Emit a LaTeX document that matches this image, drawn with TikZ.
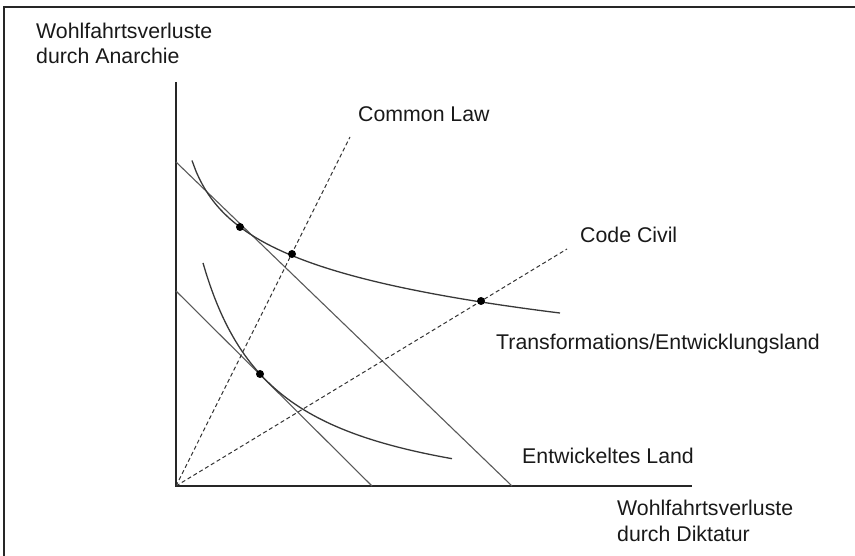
\documentclass[tikz,border=0pt]{standalone}
\usepackage{fontspec}
\setmainfont{Liberation Sans}
\begin{document}
\begin{tikzpicture}[x=1pt,y=-1pt,
  lbl/.style={anchor=base west,inner sep=0pt,font=\fontsize{21.3}{25}\selectfont,text=black!90},
  axis/.style={draw=black!85,line width=1.4pt},
  budget/.style={draw=black!65,line width=1.1pt},
  curve/.style={draw=black!78,line width=1.3pt},
  ray/.style={draw=black!80,line width=1pt,dash pattern=on 4pt off 2.8pt},
  dot/.style={circle,fill=black,inner sep=0pt,minimum size=8pt},
  frame/.style={draw=black!85,line width=1.8pt}]
\useasboundingbox (0,0) rectangle (855,556);
\draw[frame] (855,7) -- (4,7) -- (4,556);
% axes
\coordinate (O) at (176,486);
\coordinate (ytop) at (176,82);
\coordinate (xend) at (692,486);
\draw[axis] (ytop) -- (O) -- (xend);
% budget lines
\coordinate (b1a) at (176,162);
\coordinate (b1b) at (512,486);
\coordinate (b2a) at (176,291);
\coordinate (b2b) at (372,486);
\draw[budget] (b1a) -- (b1b);
\draw[budget] (b2a) -- (b2b);
% rays
\coordinate (cl) at (350,137);
\coordinate (cc) at (567,249);
\draw[ray] (O) -- (cl);
\draw[ray] (O) -- (cc);
% indifference curves
\draw[curve] plot[domain=16:384,samples=90,smooth] ({176+\x},{486-458.6+48*ln(\x)});
\draw[curve] plot[domain=27:276,samples=90,smooth] ({176+\x},{516-184.44/(0.01*\x+0.459)});
% dots
\node[dot] (d1) at (240,227) {};
\node[dot] (d2) at (292,254) {};
\node[dot] (d3) at (481,301) {};
\node[dot] (d4) at (260,374) {};
% labels
\node[lbl] (ya1) at (36,39) {Wohlfahrtsverluste};
\node[lbl] (ya2) at (36,64) {durch Anarchie};
\node[lbl] (xa1) at (617,515) {Wohlfahrtsverluste};
\node[lbl] (xa2) at (617,541) {durch Diktatur};
\node[lbl] (tcl) at (358,122) {Common Law};
\node[lbl] (tcc) at (580,243) {Code Civil};
\node[lbl] (ttr) at (496,349) {Transformations/Entwicklungsland};
\node[lbl] (tel) at (522,463) {Entwickeltes Land};
\end{tikzpicture}
\end{document}
